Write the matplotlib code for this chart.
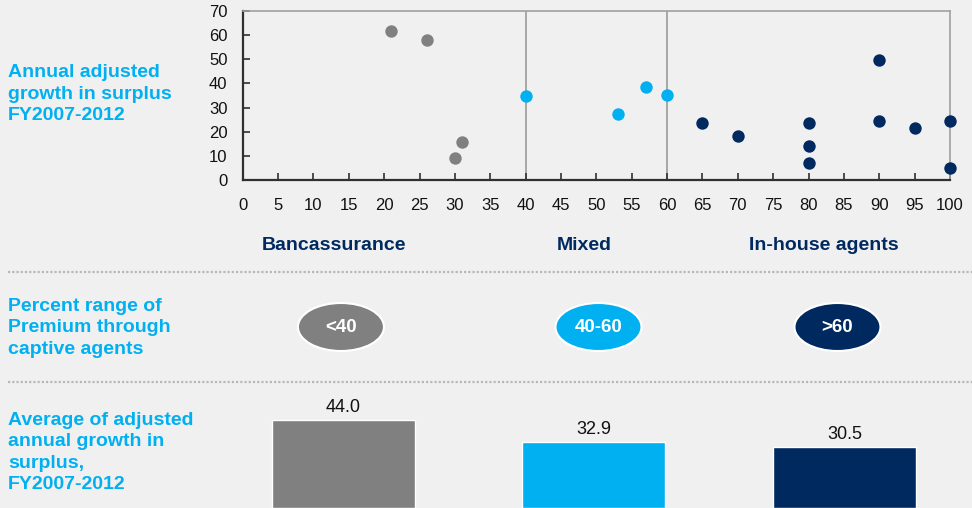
import matplotlib
matplotlib.use("Agg")
import matplotlib.pyplot as plt
from matplotlib.patches import Ellipse

# ---- data -------------------------------------------------------------
banc_x = [21, 26, 30, 31]
banc_y = [61.7, 58.0, 9.0, 15.6]
mixed_x = [40, 53, 57, 60]
mixed_y = [34.7, 27.3, 38.4, 35.1]
inhouse_x = [65, 70, 80, 80, 80, 90, 90, 95, 100, 100]
inhouse_y = [23.5, 18.4, 23.5, 14.2, 7.2, 49.7, 24.6, 21.7, 24.6, 4.8]

channels = ["Bancassurance", "Mixed", "In-house agents"]
ranges = ["<40", "40-60", ">60"]
avg_growth = [44.0, 32.9, 30.5]
boundaries = [40, 60]

x_ticks = list(range(0, 101, 5))
y_ticks = list(range(0, 71, 10))

# ---- style ------------------------------------------------------------
GREY = "#808080"
LBLUE = "#00B0F0"
NAVY = "#002960"
BG = "#F0F0F0"
colors = [GREY, LBLUE, NAVY]

plt.rcParams["font.family"] = ["Liberation Sans", "DejaVu Sans"]

W, H = 972, 508
fig = plt.figure(figsize=(W / 100, H / 100), dpi=100, facecolor=BG)


def fx(px):
    return px / W


def fy(py):
    return (H - py) / H


# ---- scatter panel ----------------------------------------------------
ax = fig.add_axes([fx(242.7), fy(180), fx(950) - fx(242.7), fy(11) - fy(180)])
ax.set_facecolor(BG)
ax.set_xlim(0, 100)
ax.set_ylim(0, 70)
for xb in boundaries:
    ax.axvline(xb, color="#9A9A9A", lw=1.2, zorder=1)
ms = 80
ax.scatter(banc_x, banc_y, s=ms, color=GREY, zorder=3, clip_on=False, linewidths=0)
ax.scatter(mixed_x, mixed_y, s=ms, color=LBLUE, zorder=3, clip_on=False, linewidths=0)
ax.scatter(inhouse_x, inhouse_y, s=ms, color=NAVY, zorder=3, clip_on=False, linewidths=0)

ax.set_xticks(x_ticks)
ax.set_yticks(y_ticks)
ax.tick_params(axis="both", direction="in", length=5, width=1.2, color="#303030",
               labelsize=12, labelcolor="#111111")
ax.tick_params(axis="x", pad=13)
ax.tick_params(axis="y", pad=11)
for side in ("left", "bottom"):
    ax.spines[side].set_color("#303030")
    ax.spines[side].set_linewidth(1.6)
for side in ("top", "right"):
    ax.spines[side].set_color("#A0A0A0")
    ax.spines[side].set_linewidth(1.2)

LS = 1.34
FS_SIDE = 14
fig.text(fx(8), fy(94.3), "Annual adjusted\ngrowth in surplus\nFY2007-2012",
         color=LBLUE, fontsize=FS_SIDE, fontweight="bold", va="center", ha="left",
         linespacing=LS)

# ---- lower panel: channel labels, ranges and average bars -------------
band_top = 220
bx = fig.add_axes([0, 0, 1, fy(band_top)])
bx.set_facecolor("none")
bx.set_xlim(-1.371, 2.509)
bx.set_ylim(0, (H - band_top) / 2.0)  # 2 px per unit
bx.axis("off")

pos = list(range(len(channels)))
bx.bar(pos, avg_growth, width=0.571, color=colors, edgecolor="white",
       linewidth=1.0, zorder=2)
for p, v in zip(pos, avg_growth):
    bx.annotate(f"{v:.1f}", (p, v), xytext=(0, 3), textcoords="offset points",
                ha="center", va="bottom", fontsize=13, color="#111111")

yl = lambda py: (H - py) / 2.0
label_nudge = [-0.038, -0.04, -0.082]
badge_nudge = [-0.01, 0.018, -0.028]
for p, name, dx in zip(pos, channels, label_nudge):
    bx.text(p + dx, yl(246), name, ha="center", va="center", fontsize=14,
            fontweight="bold", color=NAVY)
for p, r, c, dx in zip(pos, ranges, colors, badge_nudge):
    bx.add_patch(Ellipse((p + dx, yl(327)), 86 / 250.5, 24, facecolor=c,
                         edgecolor="white", linewidth=1.5, zorder=3))
    bx.text(p + dx, yl(327), r, ha="center", va="center", fontsize=13.5,
            fontweight="bold", color="white", zorder=4)

for py in (272, 382):
    bx.axhline(yl(py), xmin=fx(8), xmax=1, color="#B8B8B8", lw=1.6,
               linestyle=(0, (1.0, 0.9)))

fig.text(fx(8), fy(328), "Percent range of\nPremium through\ncaptive agents",
         color=LBLUE, fontsize=FS_SIDE, fontweight="bold", va="center", ha="left",
         linespacing=LS)
fig.text(fx(8), fy(452.5),
         "Average of adjusted\nannual growth in\nsurplus,\nFY2007-2012",
         color=LBLUE, fontsize=FS_SIDE, fontweight="bold", va="center", ha="left",
         linespacing=LS)

fig.savefig("out.png", dpi=100, facecolor=BG)
